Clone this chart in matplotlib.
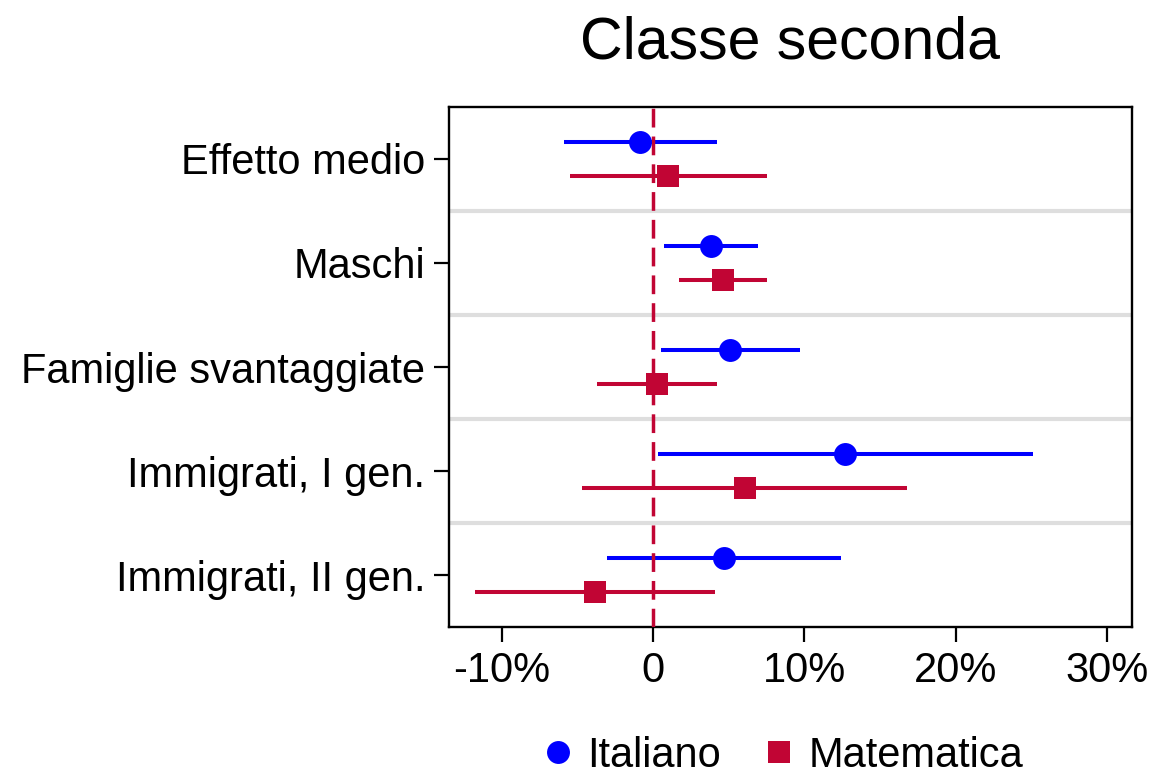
import matplotlib
matplotlib.use("Agg")
import matplotlib.pyplot as plt
from matplotlib.lines import Line2D
import numpy as np

plt.rcParams['font.family'] = ['Liberation Sans', 'DejaVu Sans']
plt.rcParams['lines.scale_dashes'] = False

# ---- data (percent) ----
categories = ["Effetto medio", "Maschi", "Famiglie svantaggiate",
              "Immigrati, I gen.", "Immigrati, II gen."]
series_names = ["Italiano", "Matematica"]

ita_est = [-0.86, 3.8, 5.1, 12.7, 4.7]
ita_lo = [-5.9, 0.74, 0.53, 0.3, -3.04]
ita_hi = [4.22, 6.9, 9.7, 25.1, 12.4]

mat_est = [1.0, 4.6, 0.27, 6.05, -3.86]
mat_lo = [-5.5, 1.68, -3.7, -4.7, -11.8]
mat_hi = [7.52, 7.5, 4.2, 16.8, 4.07]

xticks = [-10, 0, 10, 20, 30]
xticklabels = ["-10%", "0", "10%", "20%", "30%"]

title = "Classe seconda"

BLUE = "#0000FF"
RED = "#C10534"
GRAY = "#DEDEDE"

fig = plt.figure(figsize=(11.53, 7.74), dpi=100)
ax = fig.add_axes([449 / 1153, 1 - 627 / 774, (1132 - 449) / 1153, (627 - 107) / 774])

n = len(categories)
ypos = np.arange(n)
off = 0.167

# separators
for i in range(n - 1):
    ax.axhline(i + 0.5, color=GRAY, lw=3.0, zorder=1)

def draw(est, lo, hi, y, color, marker, ms):
    est = np.asarray(est); lo = np.asarray(lo); hi = np.asarray(hi)
    ax.hlines(y, lo, hi, color=color, lw=2.9, zorder=2)
    ax.plot(est, y, linestyle='none', marker=marker, color=color,
            markersize=ms, markeredgewidth=0, zorder=4)

draw(ita_est, ita_lo, ita_hi, ypos - off, BLUE, 'o', 16.5)
draw(mat_est, mat_lo, mat_hi, ypos + off, RED, 's', 16.5)

# reference line at 0
ax.axvline(0, color=RED, lw=2.5, dashes=(13.5, 6.5), zorder=3)

ax.set_xlim(-13.5, 31.65)
ax.set_ylim(n - 0.5, -0.5)
ax.set_yticks(ypos)
ax.set_yticklabels(categories)
ax.set_xticks(xticks)
ax.set_xticklabels(xticklabels)
ax.tick_params(axis='both', labelsize=30, width=1.6, length=11, pad=6, color='black')

for s in ax.spines.values():
    s.set_linewidth(1.7)
    s.set_color('black')

fig.text(790 / 1153, 1 - 58.5 / 774, title, ha='center', va='baseline', fontsize=42.5)

handles = [Line2D([], [], linestyle='none', marker='o', color=BLUE, markersize=16.5, markeredgewidth=0),
           Line2D([], [], linestyle='none', marker='s', color=RED, markersize=16.5, markeredgewidth=0)]
fig.legend(handles, series_names, loc='center', bbox_to_anchor=(782 / 1153, 1 - 756 / 774),
           ncol=2, frameon=False, fontsize=30, handlelength=0.8, handletextpad=0.3,
           columnspacing=1.0, borderpad=0, borderaxespad=0)

fig.savefig("out.png", dpi=100)
